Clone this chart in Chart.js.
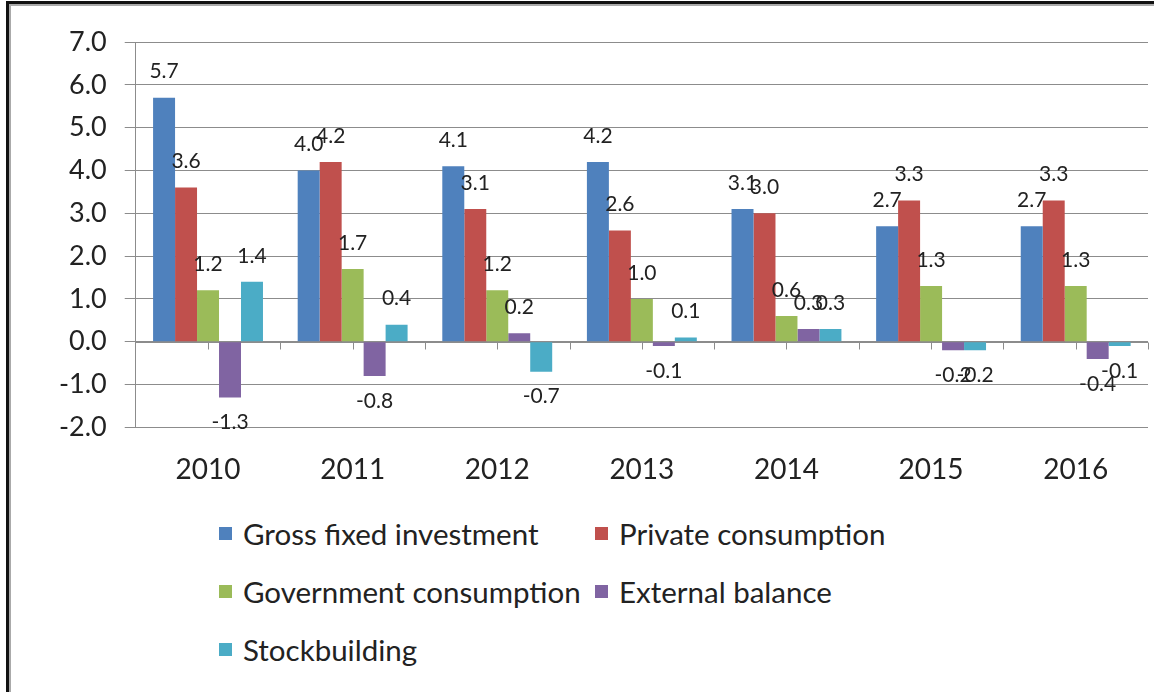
<!DOCTYPE html>
<html>
<head>
<meta charset="utf-8">
<script src="https://cdn.jsdelivr.net/npm/chart.js@4/dist/chart.umd.min.js"></script>
<style>
  html, body { margin: 0; padding: 0; background: #fff; }
  body { width: 1154px; height: 692px; position: relative; overflow: hidden; font-family: Lato, "Open Sans", sans-serif; }
  .frame { position: absolute; left: 6px; top: 1px; right: -10px; bottom: -10px;
           border-left: 3px solid #111; border-top: 3px solid #111; }
  .frame::before { content: ''; position: absolute; left: 0; top: 0; right: 0; bottom: 0;
           border-left: 2px solid #aaa; border-top: 2px solid #aaa; }
  #wrap { position: absolute; left: 0; top: 0; width: 1154px; height: 513px; }
  #legend { position: absolute; left: 219px; top: 514px; display: grid;
            grid-template-columns: 376px auto; row-gap: 20px; font-size: 29.5px; color: #222; }
  #legend .item { display: flex; align-items: center; height: 38px; white-space: nowrap; }
  #legend .box { width: 13px; height: 13px; margin-right: 11px; }
</style>
</head>
<body>
<div class="frame"></div>
<div id="wrap"><canvas id="gdpChart"></canvas></div>
<div id="legend"></div>
<script>
// Contributions à la croissance du PIB, par composante (points de %)
const years       = ['2010', '2011', '2012', '2013', '2014', '2015', '2016'];
const investment  = [5.7, 4.0, 4.1, 4.2, 3.1, 2.7, 2.7];
const privateCons = [3.6, 4.2, 3.1, 2.6, 3.0, 3.3, 3.3];
const govCons     = [1.2, 1.7, 1.2, 1.0, 0.6, 1.3, 1.3];
const external    = [-1.3, -0.8, 0.2, -0.1, 0.3, -0.2, -0.4];
const stocks      = [1.4, 0.4, -0.7, 0.1, 0.3, -0.2, -0.1];
const yTicks      = [-2, -1, 0, 1, 2, 3, 4, 5, 6, 7];

const seriesNames  = ['Gross fixed investment', 'Private consumption', 'Government consumption', 'External balance', 'Stockbuilding'];
const seriesValues = [investment, privateCons, govCons, external, stocks];
const seriesColors = ['#4F81BD', '#C0504D', '#9BBB59', '#8064A2', '#4BACC6'];

const gridGray = '#8c8c8c';
const fontFamily = 'Lato, "Open Sans", sans-serif';

// Ligne du zéro + petites graduations (toutes les demi-catégories, comme dans Excel)
const zeroAxis = {
  id: 'zeroAxis',
  beforeDatasetsDraw(chart) {
    const { ctx, chartArea, scales } = chart;
    const y0 = Math.round(scales.y.getPixelForValue(0)) + 0.5;
    const step = (chartArea.right - chartArea.left) / (years.length * 2);
    ctx.save();
    ctx.strokeStyle = gridGray;
    ctx.lineWidth = 1;
    ctx.beginPath();
    ctx.moveTo(chartArea.left, y0);
    ctx.lineTo(chartArea.right, y0);
    for (let k = 1; k <= years.length * 2; k++) {
      const x = Math.round(chartArea.left + k * step) + 0.5;
      ctx.moveTo(x, y0);
      ctx.lineTo(x, y0 + 7);
    }
    ctx.stroke();
    ctx.restore();
  },
};

// Étiquettes de valeurs au-dessus / au-dessous des barres
const valueLabels = {
  id: 'valueLabels',
  afterDatasetsDraw(chart) {
    const { ctx } = chart;
    ctx.save();
    ctx.font = `21px ${fontFamily}`;
    ctx.fillStyle = '#222';
    ctx.textAlign = 'center';
    ctx.textBaseline = 'middle';
    chart.data.datasets.forEach((ds, i) => {
      chart.getDatasetMeta(i).data.forEach((bar, j) => {
        const v = ds.data[j];
        const y = v >= 0 ? bar.y - 26 : bar.y + 25;
        ctx.fillText(v.toFixed(1), bar.x, y);
      });
    });
    ctx.restore();
  },
};

const chart = new Chart(document.getElementById('gdpChart'), {
  type: 'bar',
  data: {
    labels: years,
    datasets: seriesNames.map((name, i) => ({
      label: name,
      data: seriesValues[i],
      backgroundColor: seriesColors[i],
      borderWidth: 0,
      barPercentage: 1,
      categoryPercentage: 0.76,
    })),
  },
  options: {
    responsive: true,
    maintainAspectRatio: false,
    animation: false,
    layout: { padding: { left: 41, right: 6, top: 42, bottom: 8 } },
    plugins: { legend: { display: false }, tooltip: { enabled: false } },
    scales: {
      x: {
        grid: { display: false },
        border: { display: false },
        ticks: { color: '#222', padding: 18, font: { family: fontFamily, size: 28 } },
      },
      y: {
        min: -2,
        max: 7,
        afterBuildTicks: (scale) => { scale.ticks = yTicks.map((v) => ({ value: v })); },
        grid: { color: gridGray, lineWidth: 1, tickLength: 11 },
        border: { color: gridGray },
        ticks: {
          color: '#222',
          padding: 18,
          font: { family: fontFamily, size: 27 },
          callback: (v) => Number(v).toFixed(1),
        },
      },
    },
  },
  plugins: [zeroAxis, valueLabels],
});

// Légende HTML sur deux colonnes
const legendEl = document.getElementById('legend');
chart.data.datasets.forEach((ds) => {
  const item = document.createElement('div');
  item.className = 'item';
  item.innerHTML = `<span class="box" style="background:${ds.backgroundColor}"></span>${ds.label}`;
  legendEl.appendChild(item);
});
</script>
</body>
</html>
